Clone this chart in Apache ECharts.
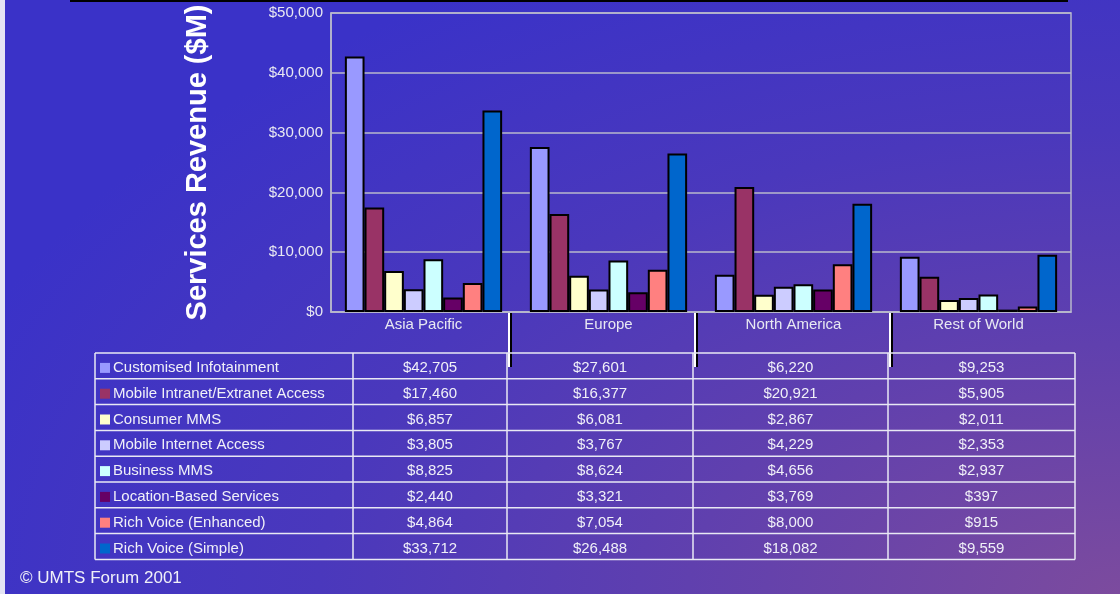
<!DOCTYPE html>
<html>
<head>
<meta charset="utf-8">
<title>Services Revenue</title>
<script src="https://cdn.jsdelivr.net/npm/echarts@6/dist/echarts.min.js"></script>
<style>
html, body { margin: 0; padding: 0; }
body {
    width: 1120px; height: 594px; overflow: hidden;
    background: radial-gradient(ellipse 110% 120% at 100% 100%, #7c4b9e 0%, #6040ae 35%, #4a38bc 65%, #3a32c8 100%);
}
#main { width: 1120px; height: 594px; }
</style>
</head>
<body>
<div id="main"></div>
<script type="text/javascript">

var regions = ['Asia Pacific', 'Europe', 'North America', 'Rest of World'];

var services = [
    'Customised Infotainment',
    'Mobile Intranet/Extranet Access',
    'Consumer MMS',
    'Mobile Internet Access',
    'Business MMS',
    'Location-Based Services',
    'Rich Voice (Enhanced)',
    'Rich Voice (Simple)'
];

var colors = ['#9999ff', '#993366', '#ffffcc', '#ccccff', '#ccffff', '#660066', '#ff8080', '#0066cc'];

var customisedInfotainment = [42705, 27601, 6220, 9253];
var mobileIntranetExtranet = [17460, 16377, 20921, 5905];
var consumerMMS            = [6857, 6081, 2867, 2011];
var mobileInternetAccess   = [3805, 3767, 4229, 2353];
var businessMMS            = [8825, 8624, 4656, 2937];
var locationBased          = [2440, 3321, 3769, 397];
var richVoiceEnhanced      = [4864, 7054, 8000, 915];
var richVoiceSimple        = [33712, 26488, 18082, 9559];

var seriesData = [customisedInfotainment, mobileIntranetExtranet, consumerMMS, mobileInternetAccess,
                  businessMMS, locationBased, richVoiceEnhanced, richVoiceSimple];

function money(v) {
    return '$' + v.toLocaleString('en-US');
}

var shadow = { textShadowColor: 'rgba(0,0,0,0.75)', textShadowOffsetX: 1, textShadowOffsetY: 1, textShadowBlur: 0 };
var font = 'Liberation Sans, Arial, sans-serif';

var myChart = echarts.init(document.getElementById('main'));

var series = [];
for (var i = 0; i < services.length; i++) {
    series.push({
        name: services[i],
        type: 'bar',
        barGap: 0,
        barCategoryGap: '15%',
        data: seriesData[i],
        itemStyle: { color: colors[i], borderColor: '#000', borderWidth: 2 }
    });
}

var option = {
    animation: false,
    backgroundColor: 'transparent',
    grid: {
        left: 331, top: 13, right: 49, bottom: 282,
        show: true, borderColor: '#b8b8cc', borderWidth: 1.5
    },
    xAxis: {
        type: 'category',
        data: regions,
        axisLine: { lineStyle: { color: '#b8b8cc', width: 1.5 } },
        axisTick: { show: false },
        axisLabel: Object.assign({ color: '#e8e8f2', fontSize: 15, fontFamily: font, margin: 5 }, shadow)
    },
    yAxis: {
        type: 'value',
        min: 0, max: 50000, interval: 10000,
        name: 'Services Revenue ($M)',
        nameLocation: 'middle',
        nameGap: 119,
        nameTextStyle: Object.assign({ color: '#ffffff', fontSize: 29, fontWeight: 'bold', fontFamily: font }, shadow, { textShadowOffsetX: 2, textShadowOffsetY: 2 }),
        axisLine: { show: true, lineStyle: { color: '#b8b8cc', width: 1.5 } },
        axisTick: { show: false },
        splitLine: { lineStyle: { color: '#b8b8cc', width: 1.5 } },
        axisLabel: Object.assign({ color: '#e8e8f2', fontSize: 15, fontFamily: font, margin: 8, formatter: money }, shadow)
    },
    series: series
};

myChart.setOption(option);

// data table + decorations
var graphic = [];

// top black rule and left light strip
graphic.push({ type: 'rect', shape: { x: 70, y: 0, width: 998, height: 2 }, style: { fill: '#000' } });
graphic.push({ type: 'rect', shape: { x: 0, y: 0, width: 5, height: 594 }, style: { fill: '#e4e4f4' } });

var colX = [95, 353, 507, 693, 888, 1075];
var tableTop = 353;
var rowH = 25.8;
var lineColor = '#e8e8f4';

// category separators below the axis, lined up with the table columns
for (var c = 2; c < colX.length - 1; c++) {
    var xm = colX[c] + 2;
    graphic.push({ type: 'line', shape: { x1: xm + 2, y1: 313, x2: xm + 2, y2: 367 }, style: { stroke: '#000', lineWidth: 2 } });
    graphic.push({ type: 'line', shape: { x1: xm, y1: 313, x2: xm, y2: 367 }, style: { stroke: '#ffffff', lineWidth: 2 } });
}

// horizontal rules
for (var r = 0; r <= services.length; r++) {
    var yy = tableTop + r * rowH;
    graphic.push({ type: 'line', shape: { x1: colX[0], y1: yy, x2: colX[5], y2: yy }, style: { stroke: lineColor, lineWidth: 1.5 } });
}
// vertical rules
for (var k = 0; k < colX.length; k++) {
    graphic.push({ type: 'line', shape: { x1: colX[k], y1: tableTop, x2: colX[k], y2: tableTop + services.length * rowH }, style: { stroke: lineColor, lineWidth: 1.5 } });
}

for (var s = 0; s < services.length; s++) {
    var cy = tableTop + s * rowH + rowH / 2 + 2;
    graphic.push({ type: 'rect', shape: { x: 100, y: cy - 5, width: 10, height: 10 }, style: { fill: colors[s] } });
    graphic.push({
        type: 'text', x: 113, y: cy,
        style: Object.assign({ text: services[s], fill: '#f0f0f8', font: '15px ' + font, textAlign: 'left', textVerticalAlign: 'middle' }, shadow)
    });
    for (var c2 = 0; c2 < regions.length; c2++) {
        graphic.push({
            type: 'text', x: (colX[c2 + 1] + colX[c2 + 2]) / 2, y: cy,
            style: Object.assign({ text: money(seriesData[s][c2]), fill: '#f0f0f8', font: '15px ' + font, textAlign: 'center', textVerticalAlign: 'middle' }, shadow)
        });
    }
}

graphic.push({
    type: 'text', x: 20, y: 578,
    style: Object.assign({ text: '\u00a9 UMTS Forum 2001', fill: '#f0f0f8', font: '17px ' + font, textAlign: 'left', textVerticalAlign: 'middle' }, shadow)
});

myChart.setOption({ graphic: graphic });

</script>
</body>
</html>
